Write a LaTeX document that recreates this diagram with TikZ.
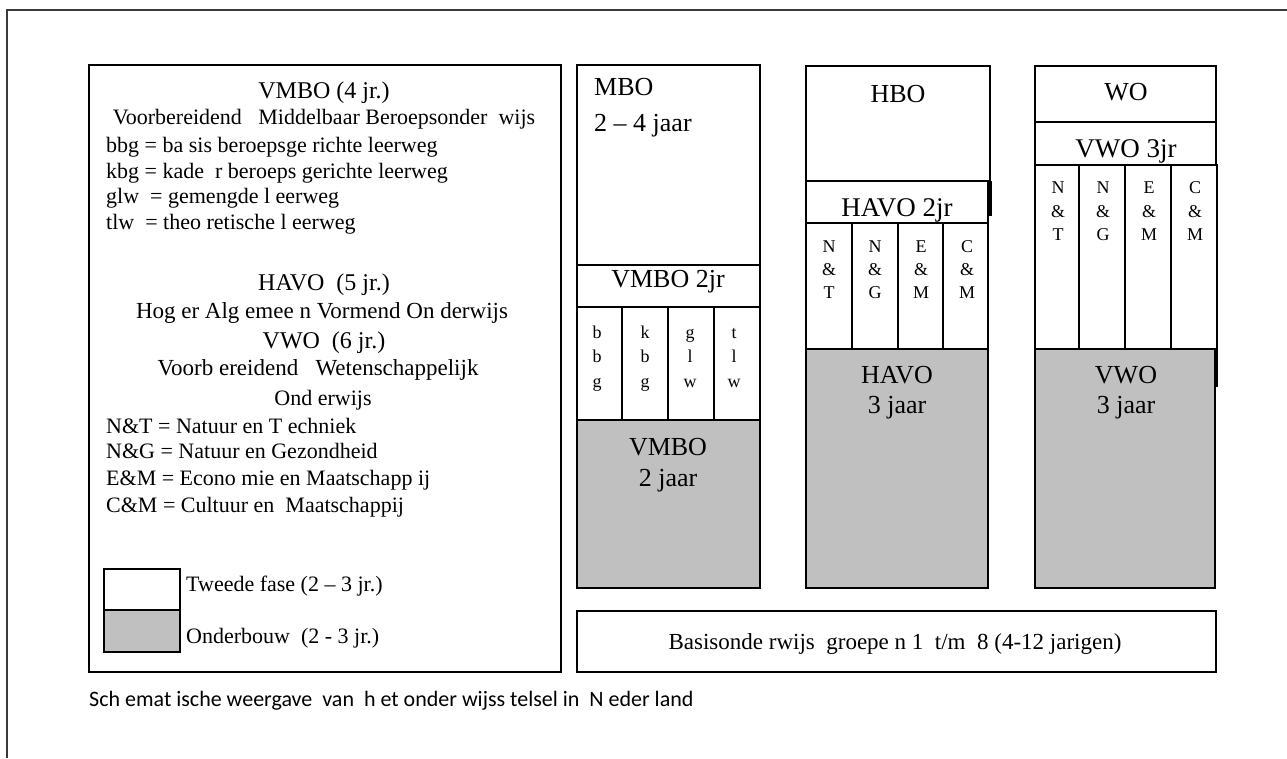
\documentclass[tikz,border=0pt]{standalone}
\usepackage{fontspec}
\setmainfont{Liberation Serif}
\newfontfamily\capfont{Carlito}
\definecolor{greyfill}{HTML}{C0C0C0}
\definecolor{framegrey}{HTML}{3A3A3A}
\tikzset{
  box/.style={draw=black, line width=2.6pt},
  greybox/.style={draw=black, line width=2.6pt, fill=greyfill},
  divider/.style={draw=black, line width=2.6pt},
  frameline/.style={draw=framegrey, line width=2.2pt},
  lhead/.style={anchor=base, inner sep=0pt, font=\fontsize{24}{28}\selectfont},
  lbody/.style={anchor=base west, inner sep=0pt, font=\fontsize{22}{26}\selectfont},
  lcent/.style={anchor=base, inner sep=0pt, font=\fontsize{22}{26}\selectfont},
  colhead/.style={anchor=base, inner sep=0pt, font=\fontsize{26}{30}\selectfont},
  sub/.style={anchor=base, inner sep=0pt, font=\fontsize{18}{21}\selectfont},
  legtext/.style={anchor=base west, inner sep=0pt, font=\fontsize{22}{26}\selectfont},
}
\begin{document}
\begin{tikzpicture}[x=1pt,y=-1pt]
\useasboundingbox (0,0) rectangle (1287,758);
% outer frame (only top and left visible)
\coordinate (ftl) at (7,10);
\coordinate (ftr) at (1287,10);
\coordinate (fbl) at (7,758);
\draw[frameline] (ftr) -- (ftl) -- (fbl);

% ---------- left legend box ----------
\draw[box] (89,65) rectangle (561,672);
\node[lhead] (vmbo4) at (324,98) {VMBO (4 jr.)};
\node[lcent] (vmbofull) at (324,124) {Voorbereidend\ \ \ Middelbaar Beroepsonder\ \ wijs};
\node[lbody] (bbg) at (106,152) {bbg = ba sis beroepsge richte leerweg};
\node[lbody] (kbg) at (106,178) {kbg = kade\ \ r beroeps gerichte leerweg};
\node[lbody] (glw) at (106,203) {glw\ \ = gemengde l eerweg};
\node[lbody] (tlw) at (106,229) {tlw\ \ = theo retische l eerweg};
\node[lhead] (havo5) at (324,290) {HAVO\ \ (5 jr.)};
\node[lcent, font=\fontsize{23}{27}\selectfont] (havofull) at (322,318) {Hog er Alg emee n Vormend On derwijs};
\node[lhead] (vwo6) at (324,348) {VWO\ \ (6 jr.)};
\node[lcent, font=\fontsize{23}{27}\selectfont] (vwofull) at (318,375) {Voorb ereidend\ \ \ Wetenschappelijk};
\node[lcent] (vwofull2) at (323,405) {Ond erwijs};
\node[lbody] (nt) at (106,433) {N\&T\ = Natuur\ en T echniek};
\node[lbody] (ng) at (106,458) {N\&G\ = Natuur\ en Gezondheid};
\node[lbody] (em) at (106,485) {E\&M = Econo\ mie en\ Maatschapp ij};
\node[lbody] (cm) at (106,512) {C\&M\ = Cultuur en\ \ Maatschappij};
% legend swatches
\draw[box] (104,569) rectangle (180,610);
\draw[greybox] (104,610) rectangle (180,652);
\node[legtext] (tweede) at (186,591) {Tweede fase (2 -- 3 jr.)};
\node[legtext] (onderbouw) at (186,643) {Onderbouw\ \ (2 - 3 jr.)};

% ---------- MBO / VMBO column ----------
\draw[box] (577,65) rectangle (760,265);
\draw[box] (577,265) rectangle (760,307);
\draw[box] (577,307) rectangle (760,420);
\foreach \x in {622,668,714} \draw[divider] (\x,307) -- (\x,420);
\draw[greybox] (577,420) rectangle (760,588);
\node[colhead, anchor=base west] (mbo) at (594,95) {MBO};
\node[colhead, anchor=base west] (mbojaar) at (594,131) {2 -- 4 jaar};
\node[colhead] (vmbo2jr) at (668,287) {VMBO 2jr};
\foreach \x/\a/\b/\c [count=\i] in {597/b/b/g, 645/k/b/g, 690/g/l/w, 734/t/l/w} {
  \node[sub] (mA\i) at (\x,338) {\a};
  \node[sub] (mB\i) at (\x,362) {\b};
  \node[sub] (mC\i) at (\x,387) {\c};
}
\node[colhead] (vmbog) at (668,455) {VMBO};
\node[colhead] (vmbogj) at (668,486) {2 jaar};

% ---------- HBO / HAVO column ----------
\draw[box] (806,66) rectangle (990,181);
\draw[box] (806,181) rectangle (988,223);
\draw[line width=3.5pt] (990,181) -- (990,216);
\draw[box] (806,223) rectangle (988,349);
\foreach \x in {852,898,943} \draw[divider] (\x,223) -- (\x,349);
\draw[greybox] (806,349) rectangle (988,588);
\node[colhead] (hbo) at (898,102) {HBO};
\node[colhead, font=\fontsize{27}{31}\selectfont] (havo2jr) at (897,216) {HAVO 2jr};
\foreach \x/\a/\b/\c [count=\i] in {829/N/\&/T, 875/N/\&/G, 921/E/\&/M, 967/C/\&/M} {
  \node[sub] (hA\i) at (\x,252) {\a};
  \node[sub] (hB\i) at (\x,275) {\b};
  \node[sub] (hC\i) at (\x,298) {\c};
}
\node[colhead] (havog) at (897,383) {HAVO};
\node[colhead] (havogj) at (897,413) {3 jaar};

% ---------- WO / VWO column ----------
\draw[box] (1035,66) rectangle (1216,122);
\draw[box] (1035,122) rectangle (1216,165);
\draw[greybox] (1035,349) rectangle (1215,588);
\draw[box] (1035,165) rectangle (1217,349);
\draw[divider] (1217,349) -- (1217,387);
\foreach \x in {1079,1125,1171} \draw[divider] (\x,165) -- (\x,349);
\node[colhead] (wo) at (1126,100) {WO};
\node[colhead, font=\fontsize{27}{31}\selectfont] (vwo3jr) at (1126,157) {VWO 3jr};
\foreach \x/\a/\b/\c [count=\i] in {1058/N/\&/T, 1103/N/\&/G, 1149/E/\&/M, 1195/C/\&/M} {
  \node[sub] (wA\i) at (\x,193) {\a};
  \node[sub] (wB\i) at (\x,217) {\b};
  \node[sub] (wC\i) at (\x,240) {\c};
}
\node[colhead] (vwog) at (1126,383) {VWO};
\node[colhead] (vwogj) at (1126,413) {3 jaar};

% ---------- basis ----------
\draw[box] (577,611) rectangle (1216,672);
\node[lcent, font=\fontsize{23}{27}\selectfont] (basis) at (895,649) {Basisonde rwijs\ \ groepe n 1\ \ t/m\ \ 8 (4-12 jarigen)};

% ---------- caption ----------
\node[anchor=base west, inner sep=0pt, font=\capfont\fontsize{22}{26}\selectfont] (caption) at (89,706)
  {Sch emat ische weergave\ \ van\ \ h et onder wijss telsel in\ \ N eder land};
\end{tikzpicture}
\end{document}
